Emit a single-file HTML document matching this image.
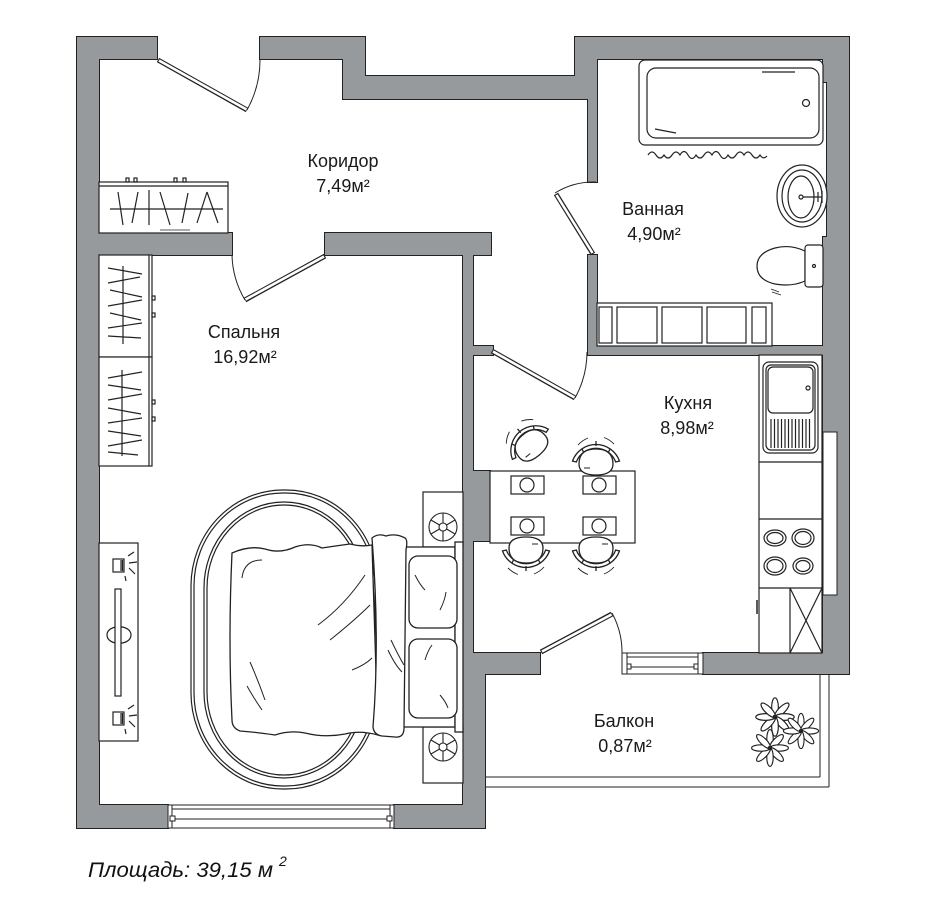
<!DOCTYPE html>
<html><head><meta charset="utf-8"><style>
html,body{margin:0;padding:0;background:#fff;}
svg{display:block;}
text{font-family:"Liberation Sans","DejaVu Sans",sans-serif;fill:#1a1a1a;}
</style></head><body>
<svg width="934" height="904" viewBox="0 0 934 904" xmlns="http://www.w3.org/2000/svg">
<defs>
<g id="chair" stroke="#222" stroke-width="1.3" fill="#fff">
  <path d="M-23.5 -1 A25 25 0 0 1 23.5 -1 L19.7 0 A21 21 0 0 0 -19.7 0 Z"/>
  <path d="M-18 -17 A27 27 0 0 1 -8 -24 M8 -24.5 A27 27 0 0 1 18 -18" fill="none" stroke-width="0.9"/>
  <path d="M-14 -13 L-12 -9 M14 -13 L12 -9 M0 -21 L0 -16" fill="none"/>
  <path d="M-17 2 C-17 -10 -9 -13 0 -13 C9 -13 17 -10 17 2 C17 10 10 13 0 13 C-10 13 -17 10 -17 2 Z"/>
  <path d="M-12 6 L-6 6" fill="none" stroke-width="1"/>
</g>
<g id="petals" fill="#fff" stroke="#222" stroke-width="1">
  <ellipse cx="0" cy="-8" rx="2.8" ry="8"/>
  <ellipse cx="0" cy="-8" rx="2.8" ry="8" transform="rotate(45)"/>
  <ellipse cx="0" cy="-8" rx="2.8" ry="8" transform="rotate(90)"/>
  <ellipse cx="0" cy="-8" rx="2.8" ry="8" transform="rotate(135)"/>
  <ellipse cx="0" cy="-8" rx="2.8" ry="8" transform="rotate(180)"/>
  <ellipse cx="0" cy="-8" rx="2.8" ry="8" transform="rotate(225)"/>
  <ellipse cx="0" cy="-8" rx="2.8" ry="8" transform="rotate(270)"/>
  <ellipse cx="0" cy="-8" rx="2.8" ry="8" transform="rotate(315)"/>
  <circle cx="0" cy="0" r="1.5" fill="#222"/>
</g>
<g id="wheel" fill="#fff" stroke="#222" stroke-width="1.1">
  <circle r="14"/>
  <circle r="4"/>
  <path d="M0 -4 L0 -14 M3.5 2 L12 7 M-3.5 2 L-12 7 M3.5 -2 L12 -7 M-3.5 -2 L-12 -7 M0 4 L0 14" fill="none"/>
</g>
<g id="walls">
  <rect x="77" y="37" width="22" height="791"/>
  <rect x="77" y="37" width="80" height="22"/>
  <rect x="260" y="37" width="105" height="22"/>
  <rect x="343" y="37" width="22" height="62"/>
  <rect x="343" y="76" width="245" height="23"/>
  <rect x="575" y="37" width="274" height="22"/>
  <rect x="575" y="37" width="22" height="62"/>
  <rect x="588" y="76" width="9" height="106"/>
  <rect x="588" y="255" width="9" height="100"/>
  <rect x="588" y="346" width="261" height="9"/>
  <rect x="827" y="37" width="22" height="637"/>
  <rect x="823" y="37" width="26" height="45"/>
  <rect x="823" y="237" width="26" height="437"/>
  <rect x="99" y="233" width="133" height="22"/>
  <rect x="325" y="233" width="166" height="22"/>
  <rect x="463" y="233" width="10" height="441"/>
  <rect x="463" y="346" width="30" height="9"/>
  <rect x="463" y="471" width="27" height="70"/>
  <rect x="463" y="653" width="77" height="21"/>
  <rect x="703" y="653" width="146" height="21"/>
  <rect x="463" y="653" width="22" height="175"/>
  <rect x="77" y="805" width="91" height="23"/>
  <rect x="394" y="805" width="91" height="23"/>
</g>
</defs>

<rect width="934" height="904" fill="#fff"/>

<use href="#walls" fill="#979a9d" stroke="#222" stroke-width="2"/>
<use href="#walls" fill="#979a9d" stroke="none"/>

<rect x="823" y="432" width="14" height="163" fill="#fff" stroke="#222" stroke-width="1"/>

<!-- windows -->
<g fill="#fff" stroke="#222" stroke-width="1">
  <rect x="168" y="805" width="226" height="23"/>
  <line x1="172" y1="809" x2="390" y2="809"/>
  <line x1="172" y1="819" x2="390" y2="819"/>
  <line x1="172" y1="805" x2="172" y2="828"/>
  <line x1="390" y1="805" x2="390" y2="828"/>
  <rect x="170" y="816" width="5" height="5"/>
  <rect x="387" y="816" width="5" height="5"/>
  <rect x="622" y="653" width="81" height="21"/>
  <line x1="627" y1="657" x2="698" y2="657"/>
  <line x1="627" y1="667" x2="698" y2="667"/>
  <line x1="627" y1="653" x2="627" y2="674"/>
  <line x1="698" y1="653" x2="698" y2="674"/>
  <rect x="627" y="664" width="4" height="5"/>
  <rect x="694" y="664" width="4" height="5"/>
</g>

<g stroke="#222" stroke-width="1" fill="none">
  <line x1="485" y1="777" x2="820" y2="777"/>
  <line x1="485" y1="787" x2="829" y2="787"/>
  <line x1="820" y1="674" x2="820" y2="777"/>
  <line x1="829" y1="674" x2="829" y2="787"/>
</g>

<!-- doors -->
<g stroke-linecap="butt">
  <g stroke="#222" stroke-width="5">
    <line x1="158" y1="60" x2="247" y2="110"/>
    <line x1="325" y1="256" x2="245" y2="300"/>
    <line x1="593" y1="254" x2="556" y2="194"/>
    <line x1="492" y1="351" x2="575" y2="398"/>
    <line x1="541" y1="652" x2="612" y2="614"/>
  </g>
  <g stroke="#fff" stroke-width="2.6">
    <line x1="159" y1="60.5" x2="246.5" y2="109.5"/>
    <line x1="324" y1="256.5" x2="245.5" y2="299.5"/>
    <line x1="592.5" y1="253" x2="556.5" y2="195"/>
    <line x1="493" y1="351.5" x2="574.5" y2="397.5"/>
    <line x1="542" y1="651.5" x2="611.5" y2="614.5"/>
  </g>
  <g stroke="#222" stroke-width="1" fill="none">
    <path d="M247 110 A103 103 0 0 0 260 59"/>
    <path d="M245 300 A92 92 0 0 1 232 255"/>
    <path d="M555 193 A73 73 0 0 1 596 182"/>
    <path d="M575 398 A96 96 0 0 0 587 352"/>
    <path d="M612 613 A82 82 0 0 1 622 653"/>
  </g>
</g>

<g stroke="#222" stroke-width="1.2" fill="none">
  <rect x="99" y="182" width="129" height="51" fill="#fff"/>
  <line x1="99" y1="186" x2="228" y2="186"/>
  <line x1="110" y1="209" x2="223" y2="209"/>
  <path d="M118 192 L123 225 M132 223 L138 192 M149 190 L149 225 M160 192 L170 225 M182 223 L188 193 M197 223 L207 192 M207 192 L218 223"/>
  <path d="M160 230 L190 230" stroke-width="0.8"/>
  <rect x="126" y="178" width="3" height="4"/><rect x="134" y="178" width="3" height="4"/><rect x="174" y="178" width="3" height="4"/><rect x="183" y="178" width="3" height="4"/>

  <rect x="99" y="255" width="53" height="102" fill="#fff"/>
  <rect x="99" y="357" width="53" height="109" fill="#fff"/>
  <line x1="149" y1="255" x2="149" y2="466"/>
  <rect x="152" y="296" width="3" height="4"/><rect x="152" y="313" width="3" height="4"/>
  <rect x="152" y="400" width="3" height="4"/><rect x="152" y="417" width="3" height="4"/>
  <line x1="123" y1="266" x2="123" y2="344"/>
  <path d="M108 268 L142 274 M108 283 L140 277 M110 290 L142 297 M108 306 L142 300 M110 313 L141 320 M108 328 L142 323 M108 336 L141 338"/>
  <line x1="122" y1="370" x2="122" y2="456"/>
  <path d="M108 378 L142 372 M108 385 L141 390 M108 400 L142 394 M108 408 L141 414 M108 423 L142 418 M108 431 L141 436 M108 446 L142 440 M108 452 L138 455"/>

  <rect x="99" y="543" width="39" height="198" fill="#fff"/>
  <rect x="113" y="559" width="11" height="13"/>
  <rect x="113" y="712" width="11" height="13"/>
  <path d="M121 560 L121 571 M122.5 560 L122.5 571 M128 556 L134 552 M129 563 L137 562 M129 568 L135 574 M125 576 L126 581"/>
  <path d="M121 713 L121 724 M122.5 713 L122.5 724 M128 709 L134 705 M129 716 L137 715 M129 721 L135 727 M125 729 L126 734"/>
  <path d="M107 635 C107 624 131 624 131 635 C131 646 107 646 107 635 Z"/>
  <rect x="115" y="589" width="6" height="107" fill="#fff"/>

  <rect x="191" y="490" width="187" height="299" rx="92" ry="96"/>
  <rect x="194" y="493" width="181" height="293" rx="89" ry="93"/>
  <rect x="204" y="502" width="160" height="276" rx="80" ry="86"/>
  <rect x="207" y="505" width="154" height="270" rx="77" ry="83"/>

  <rect x="423" y="492" width="40" height="55" fill="#fff"/>
  <rect x="423" y="727" width="40" height="56" fill="#fff"/>
</g>
<use href="#wheel" x="443" y="527"/>
<use href="#wheel" x="443" y="747"/>

<g stroke="#222" stroke-width="1.3" fill="#fff">
  <rect x="403" y="547" width="52" height="180"/>
  <rect x="455" y="542" width="8" height="190"/>
  <rect x="409" y="556" width="48" height="72" rx="9"/>
  <rect x="409" y="639" width="48" height="79" rx="9"/>
  <path d="M232 553 Q250 545 265 549 Q280 554 295 547 Q310 542 322 548 Q335 546 350 544 Q362 547 372 545 L378 735 Q360 730 345 734 Q325 738 305 733 Q290 730 275 735 Q255 732 240 731 Q232 728 232 720 Q228 640 232 553 Z"/>
  <path d="M372 538 Q378 533 386 536 Q396 533 405 538 Q408 540 406 550 L404 728 Q404 738 395 737 L382 736 Q374 735 373 727 Q380 640 372 538 Z"/>
  <g fill="none" stroke-width="1">
    <path d="M242 578 Q244 560 262 560"/>
    <path d="M318 625 Q345 605 365 575"/>
    <path d="M330 640 Q355 620 370 605"/>
    <path d="M352 670 Q365 665 372 658"/>
    <path d="M250 662 Q258 680 265 700"/>
    <path d="M247 686 Q255 700 262 710"/>
    <path d="M391 640 Q398 655 404 665"/>
    <path d="M388 650 Q395 665 402 672"/>
    <path d="M415 575 Q420 585 425 590"/>
    <path d="M440 610 Q445 600 446 592"/>
    <path d="M425 660 Q428 650 432 645"/>
    <path d="M440 695 Q446 702 448 708"/>
  </g>
</g>

<g stroke="#222" stroke-width="1.2" fill="#fff">
  <rect x="759" y="355" width="63" height="298"/>
  <line x1="759" y1="462" x2="822" y2="462"/>
  <line x1="759" y1="519" x2="822" y2="519"/>
  <line x1="759" y1="588" x2="822" y2="588"/>
  <rect x="763" y="362" width="55" height="91" rx="6"/>
  <rect x="766" y="365" width="49" height="85" rx="5"/>
  <rect x="768" y="367" width="45" height="46" rx="5"/>
  <circle cx="808" cy="388" r="2"/>
  <path d="M771 419 V448 M774.5 419 V448 M778 419 V448 M781.5 419 V448 M785 419 V448 M788.5 419 V448 M792 419 V448 M795.5 419 V448 M799 419 V448 M802.5 419 V448 M806 419 V448 M809.5 419 V448" fill="none"/>
  <ellipse cx="775" cy="538" rx="11" ry="8"/><ellipse cx="775" cy="538" rx="8" ry="5.5"/>
  <ellipse cx="803" cy="538" rx="11" ry="9"/><ellipse cx="803" cy="538" rx="8" ry="6.5"/>
  <ellipse cx="775" cy="566" rx="11" ry="9"/><ellipse cx="775" cy="566" rx="8" ry="6.5"/>
  <ellipse cx="803" cy="566" rx="10" ry="8"/><ellipse cx="803" cy="566" rx="7" ry="5.5"/>
  <line x1="790" y1="588" x2="790" y2="653"/>
  <path d="M790 588 L822 653 M822 588 L790 653" fill="none"/>
  <line x1="757" y1="600" x2="757" y2="614" stroke-width="1.5"/>
  <rect x="490" y="471" width="145" height="72"/>
</g>
<use href="#chair" transform="translate(531,445) rotate(-40)"/>
<use href="#chair" transform="translate(596,462)"/>
<use href="#chair" transform="translate(526,550) rotate(180)"/>
<use href="#chair" transform="translate(596,550) rotate(180)"/>
<g stroke="#222" stroke-width="1.2" fill="#fff">
  <rect x="511" y="476" width="33" height="18"/><circle cx="527" cy="485" r="7"/>
  <rect x="583" y="476" width="33" height="18"/><circle cx="599" cy="485" r="7"/>
  <rect x="511" y="517" width="33" height="18"/><circle cx="527" cy="526" r="7"/>
  <rect x="583" y="517" width="33" height="18"/><circle cx="599" cy="526" r="7"/>
</g>

<g stroke="#222" stroke-width="1.2" fill="#fff">
  <rect x="639" y="60" width="184" height="85" rx="6"/>
  <rect x="647" y="68" width="172" height="70" rx="9"/>
  <circle cx="806" cy="103" r="3.5"/>
  <path d="M762 72 L795 72 M655 129 Q665 131 676 133" fill="none"/>
  <path d="M648 155 q4 -6 8 0 t8 0 q4 6 8 0 t8 0 q4 -7 8 0 t8 0 q4 6 8 0 t8 0 q4 -7 8 0 t8 0 q4 6 8 0 t8 0 q4 -6 8 0 t8 0 q3 5 7 1" fill="none"/>
  <ellipse cx="802" cy="196" rx="25" ry="31"/>
  <ellipse cx="802" cy="196" rx="20" ry="26"/>
  <ellipse cx="801" cy="197" rx="13" ry="21"/>
  <circle cx="801" cy="197" r="2"/>
  <path d="M803 197 L822 197 M818 192 L818 202 M822 191 L822 203" fill="none"/>
  <path d="M805 251 Q790 244 775 248 Q757 253 757 266 Q757 280 775 284 Q792 287 805 281 Z"/>
  <rect x="805" y="245" width="18" height="42" rx="3"/>
  <circle cx="814" cy="266" r="1.5"/>
  <path d="M771 289 L779 292 M772 292 L781 295" fill="none" stroke-width="0.8"/>
  <rect x="597" y="303" width="175" height="43"/>
  <rect x="599" y="307" width="13" height="36"/>
  <rect x="617" y="307" width="40" height="36"/>
  <rect x="662" y="307" width="40" height="36"/>
  <rect x="707" y="307" width="39" height="36"/>
  <rect x="752" y="307" width="14" height="36"/>
</g>

<use href="#petals" transform="translate(775,717) scale(1.2)"/>
<use href="#petals" transform="translate(801,731) scale(1.1)"/>
<use href="#petals" transform="translate(770,748) scale(1.15)"/>

<g font-size="18" text-anchor="middle">
  <text x="343" y="167">Коридор</text>
  <text x="343" y="192">7,49м²</text>
  <text x="653" y="215">Ванная</text>
  <text x="654" y="240">4,90м²</text>
  <text x="244" y="338">Спальня</text>
  <text x="245" y="363">16,92м²</text>
  <text x="688" y="409">Кухня</text>
  <text x="687" y="434">8,98м²</text>
  <text x="624" y="727">Балкон</text>
  <text x="625" y="752">0,87м²</text>
</g>
<text x="88" y="877" font-size="21" font-style="italic" textLength="185" lengthAdjust="spacingAndGlyphs" style="fill:#111">Площадь: 39,15 м</text>
<text x="279" y="866" font-size="14" font-style="italic" style="fill:#111">2</text>
</svg>
</body></html>
